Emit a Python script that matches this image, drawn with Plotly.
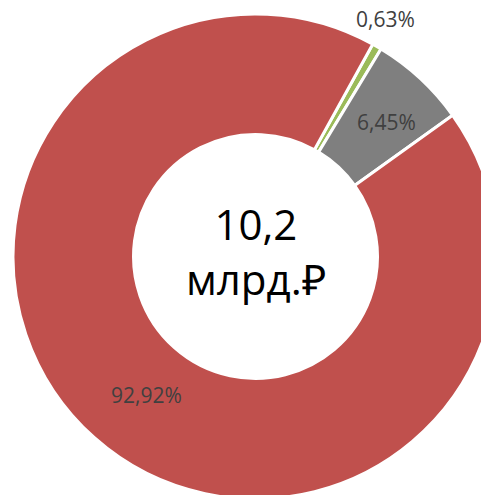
import plotly.graph_objects as go

# Data
categories = ["Прочее", "Сегмент Б", "Сегмент А"]
shares = [0.63, 6.45, 92.92]
colors = ["#9BBB59", "#7F7F7F", "#C0504D"]
center_value = "10,2"
center_unit = "млрд.₽"

labels_text = [f"{v:.2f}".replace(".", ",") + "%" for v in shares]

# label placement (paper coords) for each slice's data label
label_pos = [(0.769, 0.990), (0.771, 0.778), (0.276, 0.214)]

fig = go.Figure(
    go.Pie(
        labels=categories,
        values=shares,
        text=labels_text,
        textinfo="none",
        marker=dict(colors=colors, line=dict(color="white", width=3)),
        hole=0.503,
        sort=False,
        direction="clockwise",
        rotation=28.9,
        showlegend=False,
        hoverinfo="label+text",
    )
)

annotations = [
    dict(
        text=f"{center_value}<br>{center_unit}",
        x=0.5, y=0.5, xref="paper", yref="paper",
        xanchor="center", yanchor="middle", yshift=6,
        showarrow=False,
        font=dict(family="Open Sans", size=42, color="black"),
    )
]
for t, (lx, ly) in zip(labels_text, label_pos):
    annotations.append(
        dict(
            text=t, x=lx, y=ly, xref="paper", yref="paper",
            xanchor="center", yanchor="middle", showarrow=False,
            font=dict(family="Open Sans", size=21, color="#404040"),
        )
    )

fig.update_layout(
    width=498,
    height=499,
    margin=dict(l=13, t=14, r=0, b=0, pad=0),
    paper_bgcolor="white",
    plot_bgcolor="white",
    annotations=annotations,
)

fig.write_html(
    "out.html",
    config={"displayModeBar": False},
    post_script="document.body.style.margin='0';document.body.style.overflow='hidden';document.documentElement.style.overflow='hidden';",
)
